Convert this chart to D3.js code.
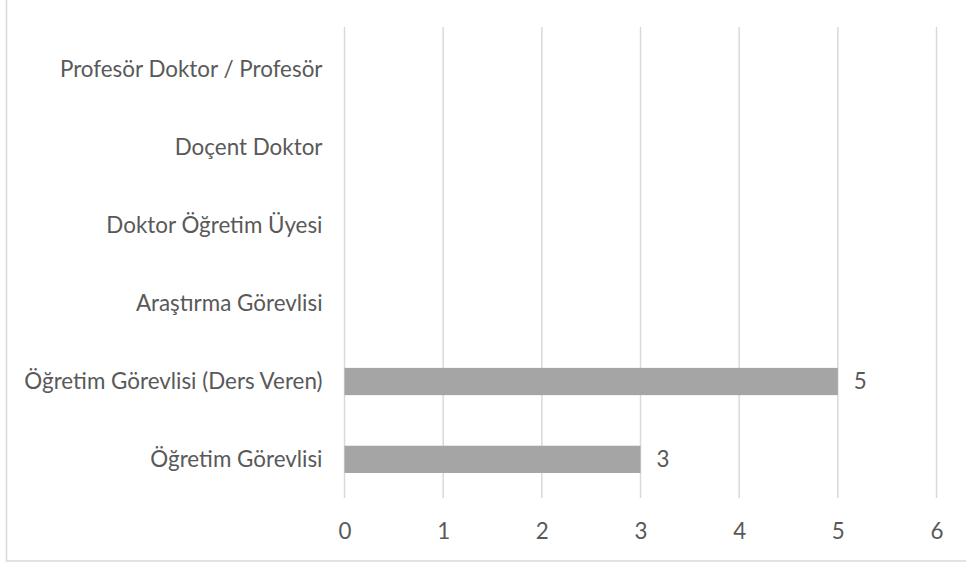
<!DOCTYPE html>
<html>
<head>
<meta charset="utf-8">
<script src="https://cdn.jsdelivr.net/npm/d3@7"></script>
<style>
  body { margin: 0; background: #fff; }
  text { font-family: Lato, "Open Sans", sans-serif; fill: #595959; }
</style>
</head>
<body>
<div id="chart"></div>
<script>
const categories = ['Profesör Doktor / Profesör', 'Doçent Doktor', 'Doktor Öğretim Üyesi',
                    'Araştırma Görevlisi', 'Öğretim Görevlisi (Ders Veren)', 'Öğretim Görevlisi'];
const values = [null, null, null, null, 5, 3];
const xTicks = [0, 1, 2, 3, 4, 5, 6];

const W = 966, H = 568;
const margin = {top: 27, right: 29.5, bottom: 70, left: 344.5};
const width = W - margin.left - margin.right,
      height = H - margin.top - margin.bottom;
const fontSize = '22.4px';

const svg = d3.select('#chart')
    .append('svg')
        .attr('width', W)
        .attr('height', H);

// chart frame (only left and bottom edges fall inside the picture)
svg.append('rect')
    .attr('x', 6.5).attr('y', -10)
    .attr('width', W + 20).attr('height', 571)
    .attr('fill', 'none')
    .attr('stroke', '#d9d9d9')
    .attr('stroke-width', 1.5);

const g = svg.append('g')
    .attr('transform', 'translate(' + margin.left + ',' + margin.top + ')');

const x = d3.scaleLinear()
    .domain([0, 6])
    .range([0, width]);

const y = d3.scaleBand()
    .domain(categories)
    .range([1.5, height + 3])
    .paddingInner(0.65)
    .paddingOuter(0.36);

// gridlines
g.append('g')
    .selectAll('line')
    .data(xTicks)
    .enter()
    .append('line')
    .attr('x1', d => x(d)).attr('x2', d => x(d))
    .attr('y1', 0).attr('y2', height)
    .attr('stroke', '#d9d9d9')
    .attr('stroke-width', 1.5);

// x axis labels
const xAxis = d3.axisBottom(x)
    .tickValues(xTicks)
    .tickSize(0)
    .tickPadding(25)
    .tickFormat(d => d.toString());

g.append('g')
    .attr('class', 'x-axis')
    .attr('transform', 'translate(0,' + height + ')')
    .call(xAxis)
    .call(a => a.select('.domain').remove())
    .selectAll('text')
        .style('font-size', fontSize)
        .attr('fill', '#595959');

// y axis labels
const yAxis = d3.axisLeft(y)
    .tickSize(0)
    .tickPadding(22);

g.append('g')
    .attr('class', 'y-axis')
    .call(yAxis)
    .call(a => a.select('.domain').remove())
    .selectAll('text')
        .style('font-size', fontSize)
        .attr('fill', '#595959');

const data = categories.map((c, i) => ({cat: c, value: values[i]}))
    .filter(d => d.value != null);

g.append('g')
    .selectAll('rect')
    .data(data)
    .enter()
    .append('rect')
    .attr('x', x(0))
    .attr('y', d => y(d.cat))
    .attr('width', d => x(d.value) - x(0))
    .attr('height', y.bandwidth())
    .attr('fill', '#a5a5a5');

g.append('g')
    .selectAll('text')
    .data(data)
    .enter()
    .append('text')
    .attr('x', d => x(d.value) + 16)
    .attr('y', d => y(d.cat) + y.bandwidth() / 2)
    .attr('dy', '0.35em')
    .style('font-size', fontSize)
    .text(d => d.value);
</script>
</body>
</html>
